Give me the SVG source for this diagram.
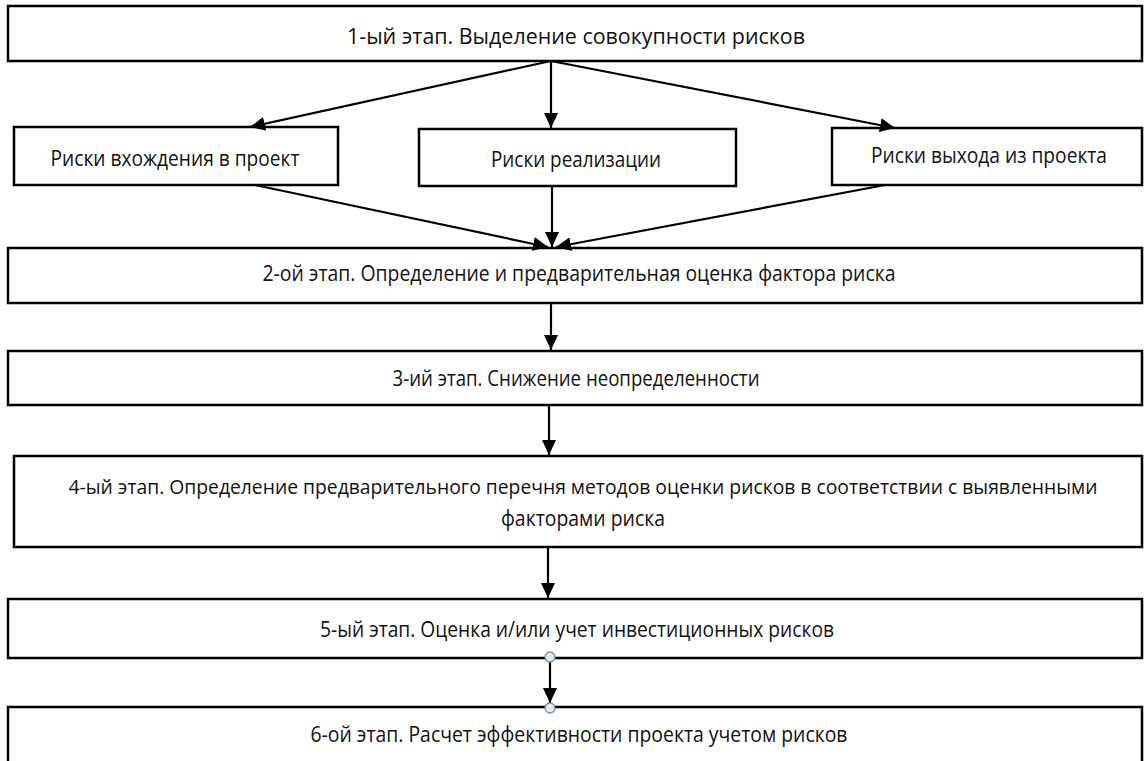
<svg xmlns="http://www.w3.org/2000/svg" width="1148" height="761" viewBox="0 0 1148 761">
  <style>
    .box { fill: #ffffff; stroke: #000000; stroke-width: 2.5; }
    .lbl { font-family: "Open Sans", "Noto Sans", "Liberation Sans", sans-serif; font-size: 21.5px; fill: #111111; text-anchor: middle; }
    .long { font-size: 20px; }
    .con { stroke: #000000; stroke-width: 2.2; fill: none; }
    .pt { fill: #d6eef3; stroke: #8a8a8a; stroke-width: 1.3; }
  </style>
  <defs>
    <marker id="arr" viewBox="0 0 15 14" refX="15" refY="7" markerWidth="15" markerHeight="14" markerUnits="userSpaceOnUse" orient="auto">
      <path d="M0,0 L15,7 L0,14 z" fill="#000000"/>
    </marker>
  </defs>
  <rect width="1148" height="761" fill="#ffffff"/>

  <g id="stage1">
    <rect class="box" x="8" y="6" width="1134" height="55"/>
    <text class="lbl" x="576" y="44" textLength="458" lengthAdjust="spacingAndGlyphs">1-ый этап. Выделение совокупности рисков</text>
  </g>
  <g id="risk-entry">
    <rect class="box" x="14" y="127" width="324" height="58"/>
    <text class="lbl" x="175" y="166" textLength="249" lengthAdjust="spacingAndGlyphs">Риски вхождения в проект</text>
  </g>
  <g id="risk-impl">
    <rect class="box" x="419" y="129" width="317" height="57"/>
    <text class="lbl" x="576" y="167" textLength="170" lengthAdjust="spacingAndGlyphs">Риски реализации</text>
  </g>
  <g id="risk-exit">
    <rect class="box" x="832" y="128" width="310" height="57"/>
    <text class="lbl" x="989" y="163" textLength="236" lengthAdjust="spacingAndGlyphs">Риски выхода из проекта</text>
  </g>
  <g id="stage2">
    <rect class="box" x="8" y="248" width="1134" height="55"/>
    <text class="lbl" x="579" y="281" textLength="633" lengthAdjust="spacingAndGlyphs">2-ой этап. Определение и предварительная оценка фактора риска</text>
  </g>
  <g id="stage3">
    <rect class="box" x="8" y="351" width="1134" height="54"/>
    <text class="lbl" x="576" y="386" textLength="367" lengthAdjust="spacingAndGlyphs">3-ий этап. Снижение неопределенности</text>
  </g>
  <g id="stage4">
    <rect class="box" x="14" y="456" width="1128" height="91"/>
    <text class="lbl long" x="583" y="494" textLength="1029" lengthAdjust="spacingAndGlyphs">4-ый этап. Определение предварительного перечня методов оценки рисков в соответствии с выявленными</text>
    <text class="lbl" x="583" y="526" textLength="164" lengthAdjust="spacingAndGlyphs">факторами риска</text>
  </g>
  <g id="stage5">
    <rect class="box" x="8" y="599" width="1134" height="59"/>
    <text class="lbl" x="577" y="637" textLength="514" lengthAdjust="spacingAndGlyphs">5-ый этап. Оценка и/или учет инвестиционных рисков</text>
  </g>
  <g id="stage6">
    <rect class="box" x="8" y="707" width="1134" height="70"/>
    <text class="lbl" x="579" y="742" textLength="537" lengthAdjust="spacingAndGlyphs">6-ой этап. Расчет эффективности проекта учетом рисков</text>
  </g>

  <g id="connectors">
    <line class="con" x1="551" y1="61" x2="250" y2="127" marker-end="url(#arr)"/>
    <line class="con" x1="551" y1="61" x2="551" y2="128" marker-end="url(#arr)"/>
    <line class="con" x1="551" y1="61" x2="895" y2="128" marker-end="url(#arr)"/>
    <line class="con" x1="255" y1="185" x2="548" y2="247" marker-end="url(#arr)"/>
    <line class="con" x1="552" y1="186" x2="552" y2="247" marker-end="url(#arr)"/>
    <line class="con" x1="885" y1="185" x2="556" y2="247" marker-end="url(#arr)"/>
    <line class="con" x1="551" y1="303" x2="551" y2="350" marker-end="url(#arr)"/>
    <line class="con" x1="549" y1="405" x2="549" y2="455" marker-end="url(#arr)"/>
    <line class="con" x1="548" y1="547" x2="548" y2="598" marker-end="url(#arr)"/>
    <line class="con" x1="550" y1="658" x2="550" y2="703" marker-end="url(#arr)"/>
    <circle class="pt" cx="550" cy="657" r="5"/>
    <circle class="pt" cx="550" cy="708" r="5"/>
  </g>
</svg>
